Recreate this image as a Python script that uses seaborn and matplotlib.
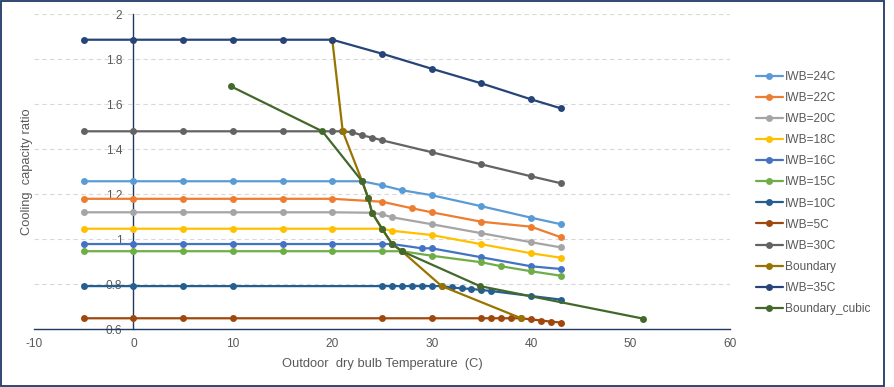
import pandas as pd
import seaborn as sns
from matplotlib import pyplot as plt
from matplotlib.patches import Rectangle
from matplotlib.ticker import FuncFormatter

# values
iwb24_x = [-5, 0, 5, 10, 15, 20, 23, 25, 27, 30, 35, 40, 43]
iwb24_y = [1.258, 1.258, 1.258, 1.258, 1.258, 1.258, 1.258, 1.240, 1.218, 1.196, 1.147, 1.096, 1.067]

iwb22_x = [-5, 0, 5, 10, 15, 20, 25, 28, 30, 35, 40, 43]
iwb22_y = [1.18, 1.18, 1.18, 1.18, 1.18, 1.18, 1.167, 1.138, 1.12, 1.078, 1.056, 1.009]

iwb20_x = [-5, 0, 5, 10, 15, 20, 24, 25, 26, 30, 35, 40, 43]
iwb20_y = [1.12, 1.12, 1.12, 1.12, 1.12, 1.12, 1.118, 1.111, 1.098, 1.067, 1.027, 0.987, 0.964]

iwb18_x = [-5, 0, 5, 10, 15, 20, 25, 26, 30, 35, 40, 43]
iwb18_y = [1.047, 1.047, 1.047, 1.047, 1.047, 1.047, 1.047, 1.038, 1.019, 0.978, 0.938, 0.918]

iwb16_x = [-5, 0, 5, 10, 15, 20, 25, 26, 29, 30, 35, 40, 43]
iwb16_y = [0.979, 0.979, 0.979, 0.979, 0.979, 0.979, 0.979, 0.979, 0.96, 0.96, 0.92, 0.88, 0.868]

iwb15_x = [-5, 0, 5, 10, 15, 20, 25, 27, 30, 35, 37, 40, 43]
iwb15_y = [0.947, 0.947, 0.947, 0.947, 0.947, 0.947, 0.947, 0.947, 0.927, 0.898, 0.88, 0.858, 0.838]

iwb10_x = [-5, 0, 5, 10, 25, 26, 27, 28, 29, 30, 31, 32, 33, 34, 35, 36, 40, 43]
iwb10_y = [0.792, 0.792, 0.792, 0.792, 0.792, 0.792, 0.792, 0.792, 0.792, 0.792, 0.792,
           0.786, 0.782, 0.779, 0.775, 0.770, 0.748, 0.732]

iwb5_x = [-5, 0, 5, 10, 25, 30, 35, 36, 37, 38, 39, 40, 41, 42, 43]
iwb5_y = [0.649, 0.649, 0.649, 0.649, 0.649, 0.649, 0.649, 0.649, 0.649, 0.649, 0.649,
          0.644, 0.639, 0.634, 0.630]

iwb30_x = [-5, 0, 5, 10, 15, 20, 21, 22, 23, 24, 25, 30, 35, 40, 43]
iwb30_y = [1.48, 1.48, 1.48, 1.48, 1.48, 1.48, 1.48, 1.476, 1.462, 1.452, 1.44, 1.387, 1.333, 1.28, 1.249]

boundary_x = [20, 21.05, 23, 23.6, 24, 25, 26, 27, 31, 39]
boundary_y = [1.887, 1.48, 1.258, 1.185, 1.118, 1.047, 0.98, 0.947, 0.792, 0.649]

iwb35_x = [-5, 0, 5, 10, 15, 20, 25, 30, 35, 40, 43]
iwb35_y = [1.887, 1.887, 1.887, 1.887, 1.887, 1.887, 1.825, 1.758, 1.693, 1.622, 1.582]

cubic_x = [9.8, 19.0, 23, 23.6, 24, 25, 26, 27, 34.85, 51.2]
cubic_y = [1.68, 1.48, 1.258, 1.185, 1.118, 1.047, 0.98, 0.947, 0.792, 0.648]

series = [
    ("IWB=24C", iwb24_x, iwb24_y, "#5B9BD5"),
    ("IWB=22C", iwb22_x, iwb22_y, "#ED7D31"),
    ("IWB=20C", iwb20_x, iwb20_y, "#A5A5A5"),
    ("IWB=18C", iwb18_x, iwb18_y, "#FFC000"),
    ("IWB=16C", iwb16_x, iwb16_y, "#4472C4"),
    ("IWB=15C", iwb15_x, iwb15_y, "#70AD47"),
    ("IWB=10C", iwb10_x, iwb10_y, "#255E91"),
    ("IWB=5C", iwb5_x, iwb5_y, "#9E480E"),
    ("IWB=30C", iwb30_x, iwb30_y, "#636363"),
    ("Boundary", boundary_x, boundary_y, "#997300"),
    ("IWB=35C", iwb35_x, iwb35_y, "#264478"),
    ("Boundary_cubic", cubic_x, cubic_y, "#43682B"),
]

sns.set_style("white")
plt.rcParams["font.family"] = ["Liberation Sans", "DejaVu Sans"]
plt.rcParams["font.size"] = 8.6
plt.rcParams["axes.unicode_minus"] = False
text_color = "#595959"
axis_color = "#1F3864"

fig = plt.figure(figsize=(8.94, 3.87), dpi=100)
ax = fig.add_axes([34 / 894, 1 - 329.3 / 387, 696 / 894, 315 / 387])

for i, (name, xs, ys, color) in enumerate(series):
    df = pd.DataFrame({"x": xs, "y": ys})
    sns.lineplot(ax=ax, data=df, x="x", y="y", sort=False, estimator=None,
                 color=color, lw=1.6, marker="o", markersize=5,
                 markeredgewidth=0, label=name, zorder=3 + i)

ax.set_xlim(-10, 60)
ax.set_ylim(0.6, 2.0)
ax.set_xticks(range(-10, 61, 10))
ax.set_yticks([0.6, 0.8, 1.0, 1.2, 1.4, 1.6, 1.8, 2.0])
ax.yaxis.set_major_formatter(FuncFormatter(lambda v, p: f"{v:g}"))

ax.yaxis.grid(True, linestyle=(0, (4, 3)), color="#D9D9D9", lw=0.8)
ax.set_axisbelow(True)

for s in ["top", "right"]:
    ax.spines[s].set_visible(False)
ax.spines["left"].set_position(("data", 0))
for s in ["left", "bottom"]:
    ax.spines[s].set_color(axis_color)
    ax.spines[s].set_linewidth(1.0)

ax.tick_params(axis="both", length=0, colors=text_color, labelsize=8.6)
ax.tick_params(axis="y", pad=8)
ax.tick_params(axis="x", pad=6)

ax.set_xlabel("Outdoor  dry bulb Temperature  (C)", color=text_color, fontsize=9.3, labelpad=6)
ax.set_ylabel("Cooling  capacity ratio", color=text_color, fontsize=9.3)
ax.yaxis.set_label_coords(-0.001, 0.5)

ax.legend(loc="center left", bbox_to_anchor=(756 / 894, 1 - 193 / 387),
          bbox_transform=fig.transFigure, frameon=False, borderpad=0,
          borderaxespad=0, handlelength=2.25, handletextpad=0.15,
          labelspacing=0.76, labelcolor=text_color, fontsize=8.6)

fig.patches.append(Rectangle((0.6 / 894, 0.6 / 387), 883.5 / 894, 385.5 / 387,
                             transform=fig.transFigure, fill=False,
                             ec=axis_color, lw=1.3))

plt.savefig("out.png", dpi=100)
